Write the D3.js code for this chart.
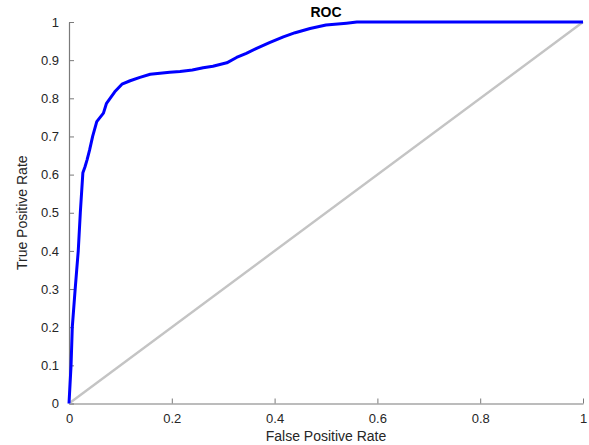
<!DOCTYPE html>
<html>
<head>
<meta charset="utf-8">
<script src="https://cdn.jsdelivr.net/npm/d3@7"></script>
<style>
	body { margin: 0; background: #fff; }
	svg { display: block; font-family: "Liberation Sans", Arial, sans-serif; }
</style>
</head>
<body>
<svg width="589" height="445"></svg>
<script>
// ROC curve
var fpr = [0, 0.002, 0.004, 0.0064, 0.012, 0.015, 0.018, 0.022, 0.027, 0.031, 0.035, 0.040, 0.046, 0.054,
	0.067, 0.073, 0.089, 0.103, 0.119, 0.138, 0.158, 0.196, 0.216, 0.240, 0.261, 0.280, 0.307, 0.326, 0.345, 0.365,
	0.390, 0.417, 0.440, 0.469, 0.500, 0.540, 0.560, 0.700, 1];
var tpr = [0, 0.05, 0.1, 0.2, 0.3, 0.35, 0.4, 0.5, 0.605, 0.62, 0.638, 0.664, 0.7, 0.739,
	0.761, 0.787, 0.817, 0.837, 0.846, 0.855, 0.863, 0.868, 0.870, 0.874, 0.880, 0.884, 0.893, 0.907, 0.918, 0.931,
	0.946, 0.961, 0.972, 0.983, 0.992, 0.997, 1, 1, 1];
var diag = [0, 1];
var xTicks = [0, 0.2, 0.4, 0.6, 0.8, 1];
var yTicks = [0, 0.1, 0.2, 0.3, 0.4, 0.5, 0.6, 0.7, 0.8, 0.9, 1];

var svg = d3.select("svg"),
	margin = {top: 22, right: 6, bottom: 41.5, left: 69},
	width = +svg.attr("width") - margin.left - margin.right,
	height = +svg.attr("height") - margin.top - margin.bottom,
	g = svg.append("g").attr("transform", "translate(" + margin.left + "," + margin.top + ")");

var x = d3.scaleLinear().domain([0, 1]).range([0, width]);
var y = d3.scaleLinear().domain([0, 1]).range([height, 0]);

var fmt = function(d) { return d === 0 || d === 1 ? String(d) : d3.format(".1f")(d); };

var xAxis = g.append("g")
	.attr("transform", "translate(0," + height + ")")
	.call(d3.axisBottom(x).tickValues(xTicks).tickFormat(fmt).tickSizeInner(-5).tickSizeOuter(0).tickPadding(10));
var yAxis = g.append("g")
	.call(d3.axisLeft(y).tickValues(yTicks).tickFormat(fmt).tickSizeInner(-5).tickSizeOuter(0).tickPadding(10));

[xAxis, yAxis].forEach(function(a) {
	a.select(".domain").attr("stroke", "#7a7a7a").attr("stroke-width", 1.2);
	a.selectAll(".tick line").attr("stroke", "#7a7a7a");
	a.selectAll(".tick text").attr("fill", "#262626").style("font-size", "13px");
});

var line = d3.line()
	.x(function(d) { return x(d[0]); })
	.y(function(d) { return y(d[1]); });

g.append("path")
	.datum(diag.map(function(d) { return [d, d]; }))
	.attr("fill", "none")
	.attr("stroke", "#c4c4c4")
	.attr("stroke-width", 2.4)
	.attr("d", line);

g.append("path")
	.datum(fpr.map(function(d, i) { return [d, tpr[i]]; }))
	.attr("fill", "none")
	.attr("stroke", "#0000ff")
	.attr("stroke-width", 3)
	.attr("stroke-linejoin", "round")
	.attr("d", line);

svg.append("text")
	.attr("x", margin.left + width / 2)
	.attr("y", 17)
	.attr("text-anchor", "middle")
	.style("font-size", "14px")
	.style("font-weight", "bold")
	.text("ROC");

svg.append("text")
	.attr("x", margin.left + width / 2)
	.attr("y", 441)
	.attr("text-anchor", "middle")
	.attr("fill", "#262626")
	.style("font-size", "14px")
	.text("False Positive Rate");

svg.append("text")
	.attr("transform", "translate(27," + (margin.top + height / 2) + ") rotate(-90)")
	.attr("text-anchor", "middle")
	.attr("fill", "#262626")
	.style("font-size", "14px")
	.style("font-family", "'Liberation Sans Narrow', 'Liberation Sans', sans-serif")
	.text("True Positive Rate");
</script>
</body>
</html>
